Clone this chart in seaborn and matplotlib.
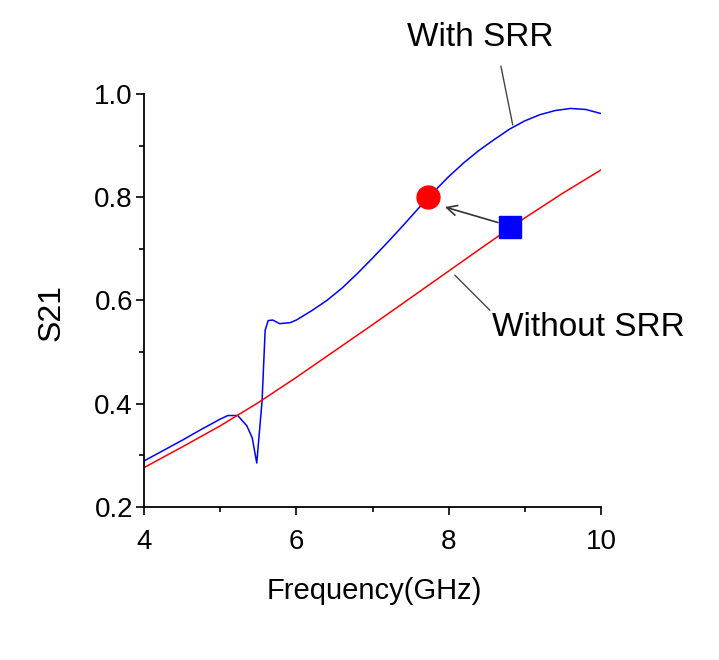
import numpy as np
import pandas as pd
import seaborn as sns
import matplotlib.pyplot as plt
from matplotlib.ticker import MultipleLocator

# data
freq_with = [4.0, 4.25, 4.5, 4.75, 5.0, 5.1, 5.23, 5.35, 5.42, 5.48, 5.55, 5.59, 5.63, 5.69,
             5.78, 5.92, 6.0, 6.2, 6.4, 6.6, 6.8, 7.0, 7.2, 7.4, 7.6, 7.8, 8.0, 8.2, 8.4,
             8.6, 8.8, 9.0, 9.2, 9.4, 9.6, 9.8, 10.0]
s21_with = [0.289, 0.309, 0.329, 0.350, 0.370, 0.377, 0.377, 0.357, 0.334, 0.285, 0.406,
            0.542, 0.561, 0.562, 0.555, 0.557, 0.562, 0.580, 0.600, 0.624, 0.652, 0.682,
            0.713, 0.745, 0.778, 0.810, 0.840, 0.867, 0.891, 0.912, 0.932, 0.948, 0.960,
            0.968, 0.972, 0.970, 0.962]

freq_without = [4.0, 4.5, 5.0, 5.5, 6.0, 6.5, 7.0, 7.5, 8.0, 8.5, 9.0, 9.5, 10.0]
s21_without = [0.276, 0.316, 0.357, 0.402, 0.451, 0.502, 0.553, 0.605, 0.657, 0.709,
               0.760, 0.808, 0.853]

circle_pt = (7.73, 0.80)
square_pt = (8.8, 0.742)

sns.set_style("ticks")
plt.rcParams['font.family'] = ['Liberation Sans', 'DejaVu Sans']
plt.rcParams['text.color'] = 'black'
plt.rcParams['axes.labelcolor'] = 'black'
plt.rcParams['xtick.color'] = 'black'
plt.rcParams['ytick.color'] = 'black'

df_with = pd.DataFrame({'f': freq_with, 's': s21_with})
df_without = pd.DataFrame({'f': freq_without, 's': s21_without})

fig = plt.figure(figsize=(7.19, 6.6), dpi=100)
ax = fig.add_axes([0.2003, 0.232, 0.6357, 0.6256])

sns.lineplot(data=df_with, x='f', y='s', color='blue', linewidth=1.1, ax=ax)
sns.lineplot(data=df_without, x='f', y='s', color='red', linewidth=1.1, ax=ax)

ax.plot(*circle_pt, marker='o', markersize=16.5, color='red', zorder=5)
ax.plot(*square_pt, marker='s', markersize=15.5, color='blue', zorder=5)
# arrow from square to circle
ax.annotate('', xy=(7.95, 0.781), xytext=(8.645, 0.751),
            arrowprops=dict(arrowstyle='->', color='#333333', lw=1.2, mutation_scale=18,
                            shrinkA=0, shrinkB=0))

# labels with leader lines
ax.text(8.41, 1.109, 'With SRR', ha='center', va='center', fontsize=24, clip_on=False)
ax.annotate('', xy=(8.84, 0.94), xytext=(8.685, 1.054), annotation_clip=False,
            arrowprops=dict(arrowstyle='-', color='#444444', lw=1.0, shrinkA=0, shrinkB=0))
ax.text(9.83, 0.548, 'Without SRR', ha='center', va='center', fontsize=24, clip_on=False)
ax.annotate('', xy=(8.08, 0.649), xytext=(8.54, 0.581), annotation_clip=False,
            arrowprops=dict(arrowstyle='-', color='#444444', lw=1.0, shrinkA=0, shrinkB=0))

ax.set_xlim(4, 10)
ax.set_ylim(0.2, 1.0)
ax.xaxis.set_major_locator(MultipleLocator(2))
ax.xaxis.set_minor_locator(MultipleLocator(1))
ax.yaxis.set_major_locator(MultipleLocator(0.2))
ax.yaxis.set_minor_locator(MultipleLocator(0.1))
ax.set_yticks([0.2, 0.4, 0.6, 0.8, 1.0])
ax.set_yticklabels(['0.2', '0.4', '0.6', '0.8', '1.0'])
ax.tick_params(which='major', length=6, width=1.2, labelsize=20, color='black')
ax.tick_params(axis='x', which='major', pad=10)
ax.tick_params(axis='y', which='major', pad=2)
ax.tick_params(which='minor', length=3.5, width=1.2, color='black')
ax.set_xlabel('Frequency(GHz)', fontsize=21)
ax.set_ylabel('S21', fontsize=23)
ax.xaxis.set_label_coords(0.503, -0.17)
ax.yaxis.set_label_coords(-0.17, 0.47)
for sp in ['left', 'bottom']:
    ax.spines[sp].set_linewidth(1.3)
    ax.spines[sp].set_color('black')
sns.despine(ax=ax)

fig.savefig('out.png', dpi=100)
